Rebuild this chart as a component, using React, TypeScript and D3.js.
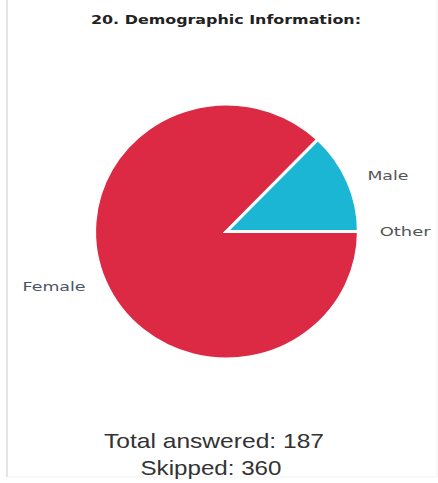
import React from "react";
import * as d3 from "d3";

const title = "20. Demographic Information:";
const categories = ["Other", "Female", "Male"];
const counts = [0, 163, 24];
const colors = ["#f0f0f0", "#dc2a45", "#1bb6d4"];
const labelColors = ["#555", "#4b5568", "#555"];
const labelWidths = [51, 63, 41];
const totalAnswered = 187;
const skipped = 360;

const W = 438;
const H = 483;

export default function App() {
  const cx = 226.5;
  const cy = 231.5;
  const r = 127.5;
  const sx = 1.035;
  const pie = d3
    .pie<number>()
    .sort(null)
    .startAngle(Math.PI / 2)
    .endAngle(Math.PI / 2 + Math.PI * 2)
    .value((d) => d);
  const arcs = pie(counts);
  const arc = d3.arc<d3.PieArcDatum<number>>().innerRadius(0).outerRadius(r);
  const labelRx = 148;
  const labelRy = 141;

  return (
    <svg
      width={W}
      height={H}
      style={{ position: "absolute", left: 0, top: 0, background: "#fff" }}
    >
      <rect x={0} y={0} width={W} height={H} fill="#fff" />
      <line x1={7} y1={0} x2={7} y2={477} stroke="#e4e4e4" strokeWidth={2} />
      <line x1={7} y1={477} x2={437} y2={477} stroke="#f3f3f3" strokeWidth={1} />
      <line x1={437} y1={0} x2={437} y2={477} stroke="#f3f3f3" strokeWidth={1} />
      <text
        x={226}
        y={24}
        textAnchor="middle"
        fontFamily="DejaVu Sans"
        fontWeight="bold"
        fontSize={12}
        fill="#222"
        textLength={270}
        lengthAdjust="spacingAndGlyphs"
      >
        {title}
      </text>
      <g transform={`translate(${cx},${cy}) scale(${sx},1)`}>
        {arcs.map((a, i) =>
          a.value > 0 ? (
            <path
              key={categories[i]}
              d={arc(a) || ""}
              fill={colors[i]}
              stroke="#fff"
              strokeWidth={3}
              strokeLinejoin="miter"
            />
          ) : (
            <line
              key={categories[i]}
              x1={0}
              y1={0}
              x2={Math.sin(a.startAngle) * (r + 2)}
              y2={-Math.cos(a.startAngle) * (r + 2)}
              stroke="#fff"
              strokeWidth={4}
            />
          )
        )}
      </g>
      {arcs.map((a, i) => {
        const mid = (a.startAngle + a.endAngle) / 2;
        const s = Math.sin(mid);
        const x = cx + s * labelRx * sx;
        const y = cy - Math.cos(mid) * labelRy + 4;
        return (
          <text
            key={"l" + categories[i]}
            x={x}
            y={y}
            textAnchor={s >= 0 ? "start" : "end"}
            fontFamily="DejaVu Sans"
            fontSize={12}
            fill={labelColors[i]}
            textLength={labelWidths[i]}
            lengthAdjust="spacingAndGlyphs"
          >
            {categories[i]}
          </text>
        );
      })}
      <text
        x={214}
        y={448}
        textAnchor="middle"
        fontFamily="Liberation Sans"
        fontSize={21}
        fill="#333"
        textLength={220}
        lengthAdjust="spacingAndGlyphs"
      >
        {`Total answered: ${totalAnswered}`}
      </text>
      <text
        x={211}
        y={475}
        textAnchor="middle"
        fontFamily="Liberation Sans"
        fontSize={21}
        fill="#333"
        textLength={141}
        lengthAdjust="spacingAndGlyphs"
      >
        {`Skipped: ${skipped}`}
      </text>
    </svg>
  );
}
